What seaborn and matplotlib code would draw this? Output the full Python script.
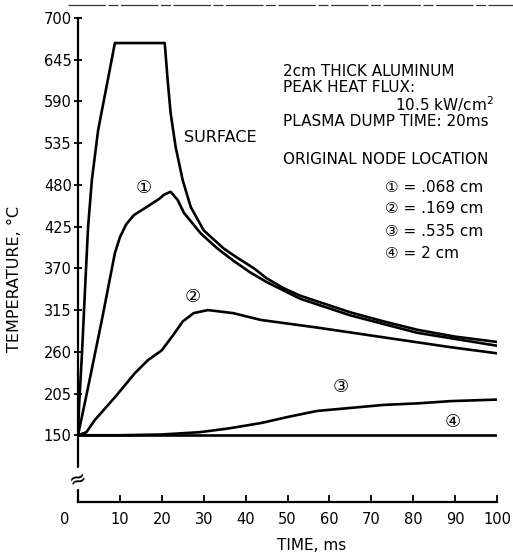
import matplotlib
matplotlib.use("Agg")
import matplotlib.pyplot as plt
import matplotlib.transforms as mtrans
from matplotlib.lines import Line2D
import numpy as np
import pandas as pd
import seaborn as sns

# ---- data ----
surface_t = [0, 0.24, 0.95, 1.7, 2.4, 3.3, 4.8, 7.1, 8.8, 15, 20.7, 21.4, 22.1, 23.3, 25, 26.9,
             30, 34.8, 38, 42, 45, 49, 53, 65, 73, 81, 90, 100]
surface_T = [150, 187, 258, 345, 424, 486, 552, 618, 667, 667, 667, 618, 575, 530, 486, 451,
             420, 396, 384, 370, 357, 344, 334, 312, 300, 289, 280, 273]

node1_t = [0, 2.4, 5.7, 8.8, 10, 11.5, 13.3, 16.7, 19.5, 20.5, 22.1, 23.8, 25.3, 29.3, 33.3,
           37.1, 41, 45, 53, 65, 81, 100]
node1_T = [150, 213, 302, 390, 411, 428, 440, 452, 462, 467, 471, 460, 443, 416, 396,
           380, 365, 352, 330, 308, 285, 268]

node2_t = [0, 2, 4, 8.8, 13.6, 16.7, 20, 23.1, 25, 27.6, 31, 37, 43.6, 57, 73, 89, 100]
node2_T = [150, 154, 170, 200, 232, 249, 262, 285, 300, 311, 315, 311, 302, 292, 279, 266, 258]

node3_t = [0, 10, 20, 29, 36, 43.6, 50, 57, 65, 73, 81, 89, 100]
node3_T = [150, 150, 151, 154, 159, 166, 174, 182, 186, 190, 192, 195, 197]

node4_t = [0, 50, 100]
node4_T = [150, 150, 150]

series_names = ["SURFACE", "1", "2", "3", "4"]
x_ticks = [0, 10, 20, 30, 40, 50, 60, 70, 80, 90, 100]
y_ticks = [150, 205, 260, 315, 370, 425, 480, 535, 590, 645, 700]

frames = []
for name, t, T in zip(series_names,
                      [surface_t, node1_t, node2_t, node3_t, node4_t],
                      [surface_T, node1_T, node2_T, node3_T, node4_T]):
    frames.append(pd.DataFrame({"time": t, "temp": T, "series": name}))
df = pd.concat(frames, ignore_index=True)

sns.set_style("ticks")
plt.rcParams["font.family"] = ["DejaVu Sans", "Noto Sans CJK JP"]
plt.rcParams["text.color"] = "black"
plt.rcParams["axes.labelcolor"] = "black"

W, H = 513, 553
fig = plt.figure(figsize=(W / 100, H / 100), dpi=100)
ax = fig.add_axes([78 / W, 1 - 502 / H, (497 - 78) / W, (502 - 18) / H])

sns.lineplot(data=df, x="time", y="temp", hue="series", units="series", estimator=None,
             sort=False, palette=["black"] * 5, linewidth=1.9, legend=False, ax=ax)
for ln in ax.get_lines():
    ln.set_solid_joinstyle("round")
    ln.set_solid_capstyle("round")

ax.set_xlim(0, 100)
ax.set_ylim(62, 700)
ax.set_xticks(x_ticks)
ax.set_yticks(y_ticks)
ax.set_xticklabels([str(v) for v in x_ticks])
ax.set_yticklabels([str(v) for v in y_ticks])
sns.despine(ax=ax)
for s in ["left", "bottom"]:
    ax.spines[s].set_linewidth(1.6)
    ax.spines[s].set_color("black")
ax.tick_params(axis="x", direction="in", length=5, width=1.3, pad=7, labelsize=10.5,
               colors="black")
ax.tick_params(axis="y", direction="inout", length=6, width=1.3, pad=1.5, labelsize=10.5,
               colors="black")
# first x label sits left of the axis in the reference
lbl0 = ax.get_xticklabels()[0]
lbl0.set_transform(lbl0.get_transform() + mtrans.ScaledTranslation(-0.13, 0, fig.dpi_scale_trans))

ax.set_xlabel("TIME, ms", fontsize=11, va="center")
ax.set_ylabel("TEMPERATURE, \u00b0C", fontsize=11.5, va="center")
ax.xaxis.set_label_coords((312 - 78) / (497 - 78), (502 - 545) / (502 - 18))
ax.yaxis.set_label_coords((15 - 78) / (497 - 78), (502 - 279) / (502 - 18))

# axis break mark
ax.text(0, 93, "\u2248", rotation=20, ha="center", va="center", fontsize=15,
        transform=ax.transData, clip_on=False,
        bbox=dict(boxstyle="square,pad=0.0", fc="white", ec="none"))

# curve labels
fs = 11
ax.text(34, 543, "SURFACE", fontsize=11.5, ha="center", va="center")
ax.text(15.7, 476, "\u2460", fontsize=13, ha="center", va="center")
ax.text(27.4, 332, "\u2461", fontsize=13, ha="center", va="center")
ax.text(62.6, 213, "\u2462", fontsize=13, ha="center", va="center")
ax.text(89.5, 167, "\u2463", fontsize=13, ha="center", va="center")

# annotation block
ax.text(49, 629, "2cm THICK ALUMINUM", fontsize=fs, ha="left", va="center")
ax.text(49, 609, "PEAK HEAT FLUX:", fontsize=fs, ha="left", va="center")
ax.text(75.7, 586, "10.5 kW/cm$^\\mathregular{2}$", fontsize=fs, ha="left", va="center")
ax.text(49, 563, "PLASMA DUMP TIME: 20ms", fontsize=fs, ha="left", va="center", clip_on=False)
ax.text(49, 513, "ORIGINAL NODE LOCATION", fontsize=fs, ha="left", va="center")
node_labels = ["\u2460 = .068 cm", "\u2461 = .169 cm", "\u2462 = .535 cm", "\u2463 = 2 cm"]
node_label_T = [477, 449, 418, 389]
for txt, yv in zip(node_labels, node_label_T):
    ax.text(73.3, yv, txt, fontsize=fs, ha="left", va="center")

# scan artifact line along top
fig.add_artist(Line2D([68 / W, 1.0], [1 - 5 / H, 1 - 5 / H], color="#333333", lw=0.9,
                      linestyle=(0, (30, 2, 8, 2))))

fig.savefig("out.png", dpi=100)
